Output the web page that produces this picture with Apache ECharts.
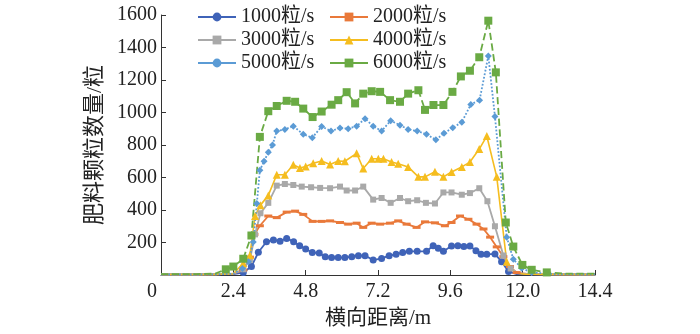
<!DOCTYPE html>
<html>
<head>
<meta charset="utf-8">
<script src="https://cdn.jsdelivr.net/npm/echarts@6/dist/echarts.min.js"></script>
<style>html,body{margin:0;padding:0;background:#fff}#c{width:700px;height:334px}</style>
</head>
<body>
<div id="c"></div>
<script>
const seriesNames = ['1000粒/s', '2000粒/s', '3000粒/s', '4000粒/s', '5000粒/s', '6000粒/s'];
const xTicks = [0, 2.4, 4.8, 7.2, 9.6, 12.0, 14.4];
const yTicks = [0, 200, 400, 600, 800, 1000, 1200, 1400, 1600];

const x1000 = [0, 0.6, 1.2, 1.8, 2.4, 2.73, 3.0, 3.23, 3.5, 3.73, 3.95, 4.17, 4.4, 4.6, 4.8, 5.02, 5.25, 5.45, 5.66, 5.88, 6.1, 6.33, 6.55, 6.77, 7.04, 7.32, 7.57, 7.8, 8.02, 8.24, 8.5, 8.81, 9.03, 9.2, 9.37, 9.64, 9.85, 10.05, 10.25, 10.45, 10.62, 10.81, 11.08, 11.3, 11.53, 11.8, 12.4, 13.2, 14.4];
const y1000 = [3, 3, 3, 4, 6, 15, 52, 140, 205, 215, 208, 225, 205, 180, 160, 138, 135, 112, 107, 107, 107, 113, 119, 119, 92, 102, 119, 127, 139, 146, 146, 146, 180, 165, 146, 179, 180, 175, 179, 150, 127, 127, 130, 82, 22, 6, 4, 3, 3];

const x2000 = [0, 0.6, 1.2, 1.8, 2.4, 2.73, 2.95, 3.1, 3.28, 3.56, 3.84, 4.17, 4.45, 4.72, 5.03, 5.33, 5.61, 5.94, 6.21, 6.49, 6.71, 6.99, 7.27, 7.6, 7.87, 8.15, 8.48, 8.76, 9.09, 9.42, 9.64, 9.92, 10.2, 10.47, 10.7, 10.92, 11.14, 11.36, 11.58, 11.8, 12.2, 13.0, 14.4];
const y2000 = [3, 3, 3, 4, 8, 30, 110, 250, 303, 363, 353, 387, 393, 373, 330, 330, 333, 323, 313, 319, 293, 319, 313, 319, 333, 313, 293, 327, 321, 303, 323, 363, 343, 313, 283, 233, 173, 113, 52, 15, 6, 4, 3];

const x3000 = [0, 0.6, 1.2, 1.8, 2.4, 2.73, 2.95, 3.12, 3.3, 3.56, 3.84, 4.11, 4.39, 4.67, 4.98, 5.28, 5.61, 5.94, 6.16, 6.44, 6.71, 7.04, 7.32, 7.62, 7.93, 8.2, 8.5, 8.79, 9.09, 9.37, 9.64, 9.98, 10.25, 10.56, 10.83, 11.08, 11.36, 11.6, 11.85, 12.3, 13.0, 14.4];
const y3000 = [3, 3, 3, 4, 8, 35, 92, 250, 380, 444, 550, 560, 554, 544, 540, 536, 534, 544, 520, 520, 544, 464, 474, 444, 474, 454, 460, 444, 440, 508, 508, 494, 504, 534, 454, 300, 120, 40, 12, 5, 4, 3];

const x4000 = [0, 0.6, 1.2, 1.8, 2.4, 2.73, 2.95, 3.12, 3.3, 3.56, 3.84, 4.11, 4.39, 4.61, 4.8, 5.05, 5.33, 5.61, 5.88, 6.1, 6.49, 6.71, 6.99, 7.21, 7.38, 7.65, 7.87, 8.2, 8.54, 8.76, 9.09, 9.37, 9.64, 9.98, 10.25, 10.56, 10.81, 11.14, 11.47, 11.74, 12.1, 13.0, 14.4];
const y4000 = [3, 3, 3, 4, 8, 72, 122, 363, 430, 490, 617, 617, 678, 658, 668, 688, 702, 680, 702, 700, 749, 655, 715, 715, 715, 695, 685, 665, 604, 604, 635, 604, 634, 665, 695, 775, 855, 604, 82, 12, 5, 4, 3];

// empty series carrying the round legend marker of the 5000 series
const x5000legend = [];
const y5000legend = [];
const x5000 = [0, 0.6, 1.2, 1.8, 2.4, 2.7, 2.9, 3.06, 3.18, 3.28, 3.42, 3.56, 3.7, 3.84, 4.11, 4.39, 4.72, 5.02, 5.33, 5.64, 5.94, 6.21, 6.49, 6.77, 7.04, 7.32, 7.62, 7.93, 8.2, 8.5, 8.81, 9.12, 9.39, 9.68, 9.98, 10.28, 10.57, 10.86, 11.08, 11.47, 11.69, 11.97, 12.3, 13.0, 14.4];
const y5000 = [3, 3, 3, 4, 8, 40, 82, 203, 440, 645, 700, 755, 800, 886, 896, 916, 866, 845, 914, 886, 904, 900, 916, 962, 916, 886, 950, 922, 896, 886, 866, 832, 872, 906, 940, 1050, 1076, 1348, 976, 233, 97, 41, 15, 6, 4];

const x6000 = [0, 0.6, 1.2, 1.8, 2.15, 2.4, 2.73, 3.0, 3.28, 3.56, 3.84, 4.17, 4.45, 4.72, 5.03, 5.33, 5.66, 5.88, 6.16, 6.44, 6.71, 6.99, 7.27, 7.6, 7.93, 8.2, 8.54, 8.76, 9.04, 9.37, 9.67, 9.95, 10.25, 10.56, 10.86, 11.11, 11.44, 11.69, 11.99, 12.3, 12.8, 13.46, 14.2, 14.4];
const y6000 = [5, 5, 6, 8, 35, 52, 100, 243, 850, 1008, 1040, 1072, 1066, 1024, 972, 1006, 1048, 1076, 1125, 1056, 1116, 1131, 1127, 1076, 1066, 1116, 1137, 1016, 1046, 1046, 1127, 1222, 1257, 1340, 1565, 1247, 323, 175, 62, 32, 16, 8, 8, 8];

const colors = ['#3f63b8', '#e9793a', '#a9a9a9', '#f5bd1f', '#5b9bd5', '#6aaa44'];
const serif = "'Liberation Serif', 'Noto Sans CJK SC', serif";
const zip = (xs, ys) => xs.map((x, i) => [x, ys[i]]);

const chart = echarts.init(document.getElementById('c'), null, { renderer: 'canvas' });

function mk(name, xs, ys, color, symbol, size, lineType, width) {
  return {
    name: name,
    type: 'line',
    data: zip(xs, ys),
    symbol: symbol,
    symbolSize: function (v) { return v[1] < 14 ? 0 : size; },
    showAllSymbol: true,
    animation: false,
    itemStyle: { color: color },
    lineStyle: { color: color, width: width, type: lineType },
    emphasis: { disabled: true }
  };
}

const option = {
  animation: false,
  grid: { left: 161, right: 105, top: 15, bottom: 57, containLabel: false },
  legend: [
    {
      orient: 'vertical', left: 192, top: 2, itemWidth: 38, itemHeight: 11, itemGap: 3,
      textStyle: { fontFamily: serif, fontSize: 20, color: '#222', lineHeight: 20 },
      data: [seriesNames[0], seriesNames[2], seriesNames[4]]
    },
    {
      orient: 'vertical', left: 324, top: 2, itemWidth: 38, itemHeight: 11, itemGap: 3,
      textStyle: { fontFamily: serif, fontSize: 20, color: '#222', lineHeight: 20 },
      data: [seriesNames[1], seriesNames[3], { name: seriesNames[5], lineStyle: { type: 'solid' } }]
    }
  ],
  xAxis: {
    type: 'value', min: xTicks[0], max: xTicks[xTicks.length - 1], interval: xTicks[1] - xTicks[0],
    name: '横向距离/m', nameLocation: 'middle', nameGap: 33,
    nameTextStyle: { fontFamily: serif, fontSize: 21, color: '#222' },
    axisLine: { show: true, lineStyle: { color: '#333', width: 1 } },
    axisTick: { show: true, inside: true, length: 5, lineStyle: { color: '#333' } },
    splitLine: { show: false },
    axisLabel: {
      fontFamily: serif, fontSize: 20, color: '#222', margin: 7,
      formatter: function (v) { return v === 0 ? '{z|0}' : v.toFixed(1); },
      rich: { z: { fontFamily: serif, fontSize: 20, color: '#222', padding: [0, 18, 0, 0] } }
    }
  },
  yAxis: {
    type: 'value', min: yTicks[0], max: yTicks[yTicks.length - 1], interval: yTicks[1] - yTicks[0],
    name: '肥料颗粒数量/粒', nameLocation: 'middle', nameGap: 52,
    nameTextStyle: { fontFamily: serif, fontSize: 22, color: '#222' },
    axisLine: { show: true, lineStyle: { color: '#333', width: 1 } },
    axisTick: { show: true, inside: true, length: 5, lineStyle: { color: '#333' } },
    splitLine: { show: false },
    axisLabel: {
      fontFamily: serif, fontSize: 20, color: '#222', margin: 4, showMinLabel: false,
      formatter: function (v) { return String(Math.round(v)); }
    }
  },
  series: [
    mk(seriesNames[4], x5000legend, y5000legend, colors[4], 'circle', 8, 'solid', 1.8),
    mk(seriesNames[0], x1000, y1000, colors[0], 'circle', 7, 'solid', 1.8),
    mk(seriesNames[1], x2000, y2000, colors[1], 'rect', [8, 3], 'solid', 1.8),
    mk(seriesNames[2], x3000, y3000, colors[2], 'rect', 6, 'solid', 1.8),
    mk(seriesNames[3], x4000, y4000, colors[3], 'triangle', 8, 'solid', 1.6),
    mk(seriesNames[4], x5000, y5000, colors[4], 'diamond', 7, 'dotted', 1.8),
    mk(seriesNames[5], x6000, y6000, colors[5], 'rect', 8, 'dashed', 1.8)
  ]
};
chart.setOption(option);
</script>
</body>
</html>
